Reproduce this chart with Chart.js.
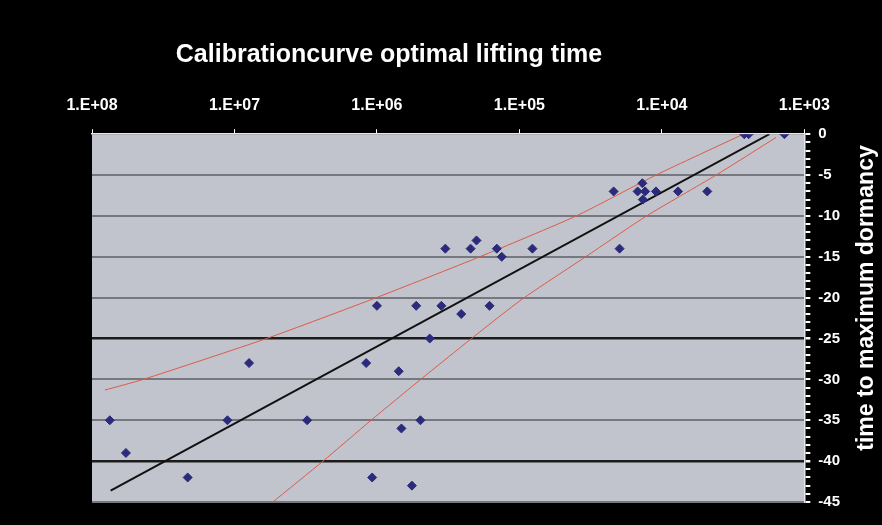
<!DOCTYPE html>
<html>
<head>
<meta charset="utf-8">
<script src="https://cdn.jsdelivr.net/npm/chart.js@4.4.1/dist/chart.umd.min.js"></script>
<style>
  html, body { margin: 0; padding: 0; background: #000; }
</style>
</head>
<body>
<canvas id="chart" width="882" height="525"></canvas>
<script>
// measured samples: x = time value (log axis), y = time to maximum dormancy
const sampleX = [2640, 2460, 1380,
    13700,
    21800, 14800, 13100, 11000, 7700, 4800,
    13600,
    200000,
    331000, 220000, 144000, 81000, 19800,
    133000,
    1000000, 530000, 353000, 162000,
    256000,
    426000,
    7900000, 1190000,
    703000,
    75000000, 11200000, 3090000, 495000,
    673000,
    57800000,
    21300000, 1080000,
    568000];
const sampleY = [0, 0, 0,
    -6,
    -7, -7, -7, -7, -7, -7,
    -8,
    -13,
    -14, -14, -14, -14, -14,
    -15,
    -21, -21, -21, -21,
    -22,
    -25,
    -28, -28,
    -29,
    -35, -35, -35, -35,
    -36,
    -39,
    -42, -42,
    -43];

// regression line
const fitX = [74000000, 1760];
const fitY = [-43.6, 0];

// upper and lower band
const upperX = [81100000, 43700000, 5960000, 1010000, 190000, 39900, 11000, 2680];
const upperY = [-31.3, -30, -25, -20, -15, -10, -5, 0];
const lowerX = [5380000, 2390000, 1100000, 493000, 217000, 96000, 34300, 12800, 4160, 1580];
const lowerY = [-45, -40, -35, -30, -25, -20.2, -15, -10, -5, -0.4];

const xTickValues = [1e3, 1e4, 1e5, 1e6, 1e7, 1e8];
const xTickLabels = ['1.E+03', '1.E+04', '1.E+05', '1.E+06', '1.E+07', '1.E+08'];
const darkLines = [-25, -40];

const titleText = 'Calibrationcurve optimal lifting time';
const yTitleText = 'time to maximum dormancy';
const FONT = "'Liberation Sans', Arial, sans-serif";

function toPoints(xs, ys) {
    return xs.map((x, i) => ({ x: x, y: ys[i] }));
}

const backdrop = {
    id: 'backdrop',
    beforeDraw(chart) {
        const { ctx, chartArea: a } = chart;
        ctx.save();
        ctx.fillStyle = '#000';
        ctx.fillRect(0, 0, chart.width, chart.height);
        ctx.fillStyle = '#c1c4cc';
        ctx.fillRect(a.left, a.top, a.right - a.left, a.bottom - a.top);
        ctx.restore();
    },
    afterDraw(chart) {
        const { ctx } = chart;
        ctx.save();
        ctx.fillStyle = '#fff';
        ctx.font = 'bold 25px ' + FONT;
        ctx.textAlign = 'center';
        ctx.textBaseline = 'middle';
        ctx.fillText(titleText, 389, 55);
        ctx.font = 'bold 23px ' + FONT;
        ctx.translate(867, 298);
        ctx.rotate(-Math.PI / 2);
        ctx.fillText(yTitleText, 0, 0);
        ctx.restore();
    }
};

new Chart(document.getElementById('chart'), {
    type: 'scatter',
    data: {
        datasets: [{
            label: 'samples',
            data: toPoints(sampleX, sampleY),
            pointStyle: 'rectRot',
            pointRadius: 4.5,
            pointBackgroundColor: '#2c2a7a',
            pointBorderColor: '#2c2a7a',
            order: 0
        }, {
            label: 'fit',
            data: toPoints(fitX, fitY),
            showLine: true,
            borderColor: '#111',
            borderWidth: 2,
            pointRadius: 0,
            order: 1
        }, {
            label: 'upper',
            data: toPoints(upperX, upperY),
            showLine: true,
            borderColor: '#dc5a48',
            borderWidth: 1,
            pointRadius: 0,
            tension: 0.2,
            order: 2
        }, {
            label: 'lower',
            data: toPoints(lowerX, lowerY),
            showLine: true,
            borderColor: '#dc5a48',
            borderWidth: 1,
            pointRadius: 0,
            tension: 0.2,
            order: 2
        }]
    },
    options: {
        responsive: false,
        animation: false,
        layout: {
            padding: { top: 82, left: 92, right: 34, bottom: 23 }
        },
        plugins: {
            legend: { display: false },
            tooltip: { enabled: false }
        },
        scales: {
            x: {
                type: 'logarithmic',
                position: 'top',
                reverse: true,
                min: 1e3,
                max: 1e8,
                afterBuildTicks: function(scale) {
                    scale.ticks = xTickValues.map(v => ({ value: v, major: true }));
                },
                ticks: {
                    autoSkip: false,
                    maxRotation: 0,
                    padding: 14,
                    color: '#fff',
                    font: { size: 16, weight: 'bold', family: FONT },
                    callback: function(value) {
                        const i = xTickValues.indexOf(value);
                        return i >= 0 ? xTickLabels[i] : '';
                    }
                },
                grid: {
                    drawOnChartArea: false,
                    tickLength: 5,
                    tickColor: '#fff'
                },
                border: { color: '#e8e8e8', width: 1.5 }
            },
            y: {
                position: 'right',
                min: -45,
                max: 0,
                ticks: {
                    stepSize: 1,
                    autoSkip: false,
                    padding: 8,
                    color: '#fff',
                    font: { size: 15, weight: 'bold', family: FONT },
                    callback: function(value) {
                        return value % 5 === 0 ? String(value) : '';
                    }
                },
                grid: {
                    tickLength: 6,
                    tickColor: '#fff',
                    color: function(c) {
                        const v = c.tick.value;
                        if (v % 5 !== 0) return 'rgba(0,0,0,0)';
                        return darkLines.includes(v) ? '#1c1c1c' : '#75787e';
                    },
                    lineWidth: function(c) {
                        return darkLines.includes(c.tick.value) ? 2.5 : 2;
                    }
                },
                border: { color: '#e8e8e8', width: 1.5 }
            }
        }
    },
    plugins: [backdrop]
});
</script>
</body>
</html>
